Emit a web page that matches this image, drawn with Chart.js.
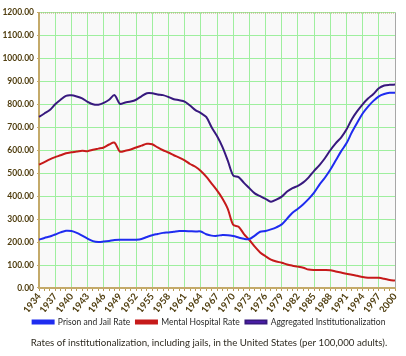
<!DOCTYPE html>
<html><head><meta charset="utf-8">
<script src="https://cdn.jsdelivr.net/npm/chart.js@4/dist/chart.umd.min.js"></script>
<style>html,body{margin:0;padding:0;background:#fff}#wrap{width:406px;height:356px}</style>
</head><body><div id="wrap"><canvas id="c" width="406" height="356"></canvas></div>
<script>
const years = [];
for (let y = 1934; y <= 2000; y++) years.push(String(y));

const prisonJail = [210,218,224,233,242,249,248,240,228,215,204,200,202,205,209,210,210,210,210,213,
  222,230,235,240,242,245,248,248,247,246,246,234,228,227,231,230,226,220,214,213,
  228,245,248,255,264,277,302,328,345,365,388,415,450,480,515,555,595,630,678,720,
  760,790,815,835,845,850,850];
const mentalHospital = [537,548,560,570,578,587,591,594,598,596,602,607,612,625,633,594,598,603,612,620,
  628,626,612,600,590,578,568,556,540,528,510,485,455,425,390,345,275,267,235,209,
  180,155,138,123,115,110,102,97,93,88,80,78,78,78,77,72,67,62,58,53,
  48,45,45,44,40,35,32];
const aggregated = [745,760,775,800,820,837,839,834,826,811,800,798,806,820,840,802,808,812,820,835,
  848,848,843,840,832,822,818,812,795,775,762,745,700,662,615,555,490,483,458,435,
  412,400,388,376,385,398,420,435,445,460,482,510,535,565,600,630,655,690,735,770,
  800,825,845,870,882,885,886];

const seriesNames = ['Prison and Jail Rate','Mental Hospital Rate','Aggregated Institutionalization'];
const titleText = 'Rates of institutionalization, including jails, in the United States (per 100,000 adults).';

const txt = '#4f3d0e';
const green = '#9fef9f';

const plotBg = {
  id: 'plotBg',
  beforeDraw(chart) {
    const a = chart.chartArea, ctx = chart.ctx;
    ctx.save();
    ctx.fillStyle = '#f9f9f9';
    ctx.fillRect(a.left, a.top, a.right - a.left, a.bottom - a.top);
    ctx.restore();
  },
  afterDatasetsDraw(chart) {
    const a = chart.chartArea, ctx = chart.ctx;
    ctx.save();
    ctx.strokeStyle = '#a8a8a8';
    ctx.lineWidth = 1;
    ctx.beginPath();
    ctx.moveTo(a.right + 0.5, a.top);
    ctx.lineTo(a.right + 0.5, a.bottom);
    ctx.stroke();
    ctx.setLineDash([1, 1]);
    ctx.strokeStyle = '#b8a470';
    ctx.beginPath();
    ctx.moveTo(a.left, a.top + 0.5);
    ctx.lineTo(a.right, a.top + 0.5);
    ctx.stroke();
    ctx.restore();
  }
};

new Chart(document.getElementById('c'), {
  type: 'line',
  data: {
    labels: years,
    datasets: [
      { label: seriesNames[0], data: prisonJail, borderColor: '#1f2cf0', backgroundColor: '#1f2cf0' },
      { label: seriesNames[1], data: mentalHospital, borderColor: '#c61a1a', backgroundColor: '#c61a1a' },
      { label: seriesNames[2], data: aggregated, borderColor: '#37197e', backgroundColor: '#5a22c8' }
    ]
  },
  options: {
    responsive: false,
    animation: false,
    devicePixelRatio: 1,
    elements: { point: { radius: 0 }, line: { borderWidth: 2, tension: 0.3 } },
    layout: { padding: { left: 0, right: -12, top: 12.5, bottom: 7.3 } },
    plugins: {
      legend: {
        position: 'bottom',
        labels: {
          boxWidth: 21, boxHeight: 3, padding: 5.8,
          color: '#2a2a2a',
          font: { family: 'Lato', size: 8.5 }
        }
      },
      title: {
        display: true, position: 'bottom', text: titleText,
        color: '#2e2a20',
        font: { family: 'Lato', size: 9.7, weight: 'normal' },
        padding: { top: 0.8, bottom: 0 }
      },
      tooltip: { enabled: false }
    },
    scales: {
      x: {
        offset: false,
        ticks: {
          autoSkip: false, minRotation: 52, maxRotation: 52,
          color: txt, font: { family: 'Lato', size: 9.5, weight: 'bold' }, padding: 0,
          callback: function(v, i) { return (i % 3 === 0) ? this.getLabelForValue(v) : ''; }
        },
        grid: {
          color: (c) => (c.index % 3 === 0 ? green : 'rgba(0,0,0,0)'),
          tickColor: '#b89a50', tickLength: 3, lineWidth: 1
        },
        border: { color: '#c4aa6a', width: 2 },
        afterFit: (s) => { s.height = 24; }
      },
      y: {
        min: 0, max: 1200,
        ticks: {
          stepSize: 100, color: txt, padding: 3,
          font: { family: 'Lato', size: 8.5, weight: 'bold' },
          callback: (v) => Number(v).toFixed(2)
        },
        grid: { color: green, tickColor: '#c4aa6a', tickLength: 2 },
        border: { color: '#c4aa6a', width: 2 },
        afterFit: (s) => { s.width = 39; }
      },
      yRightSpace: {
        position: 'right',
        display: true,
        grid: { display: false },
        ticks: { display: false },
        border: { display: false },
        afterFit: (s) => { s.width = 23; }
      }
    }
  },
  plugins: [plotBg]
});
</script></body></html>
